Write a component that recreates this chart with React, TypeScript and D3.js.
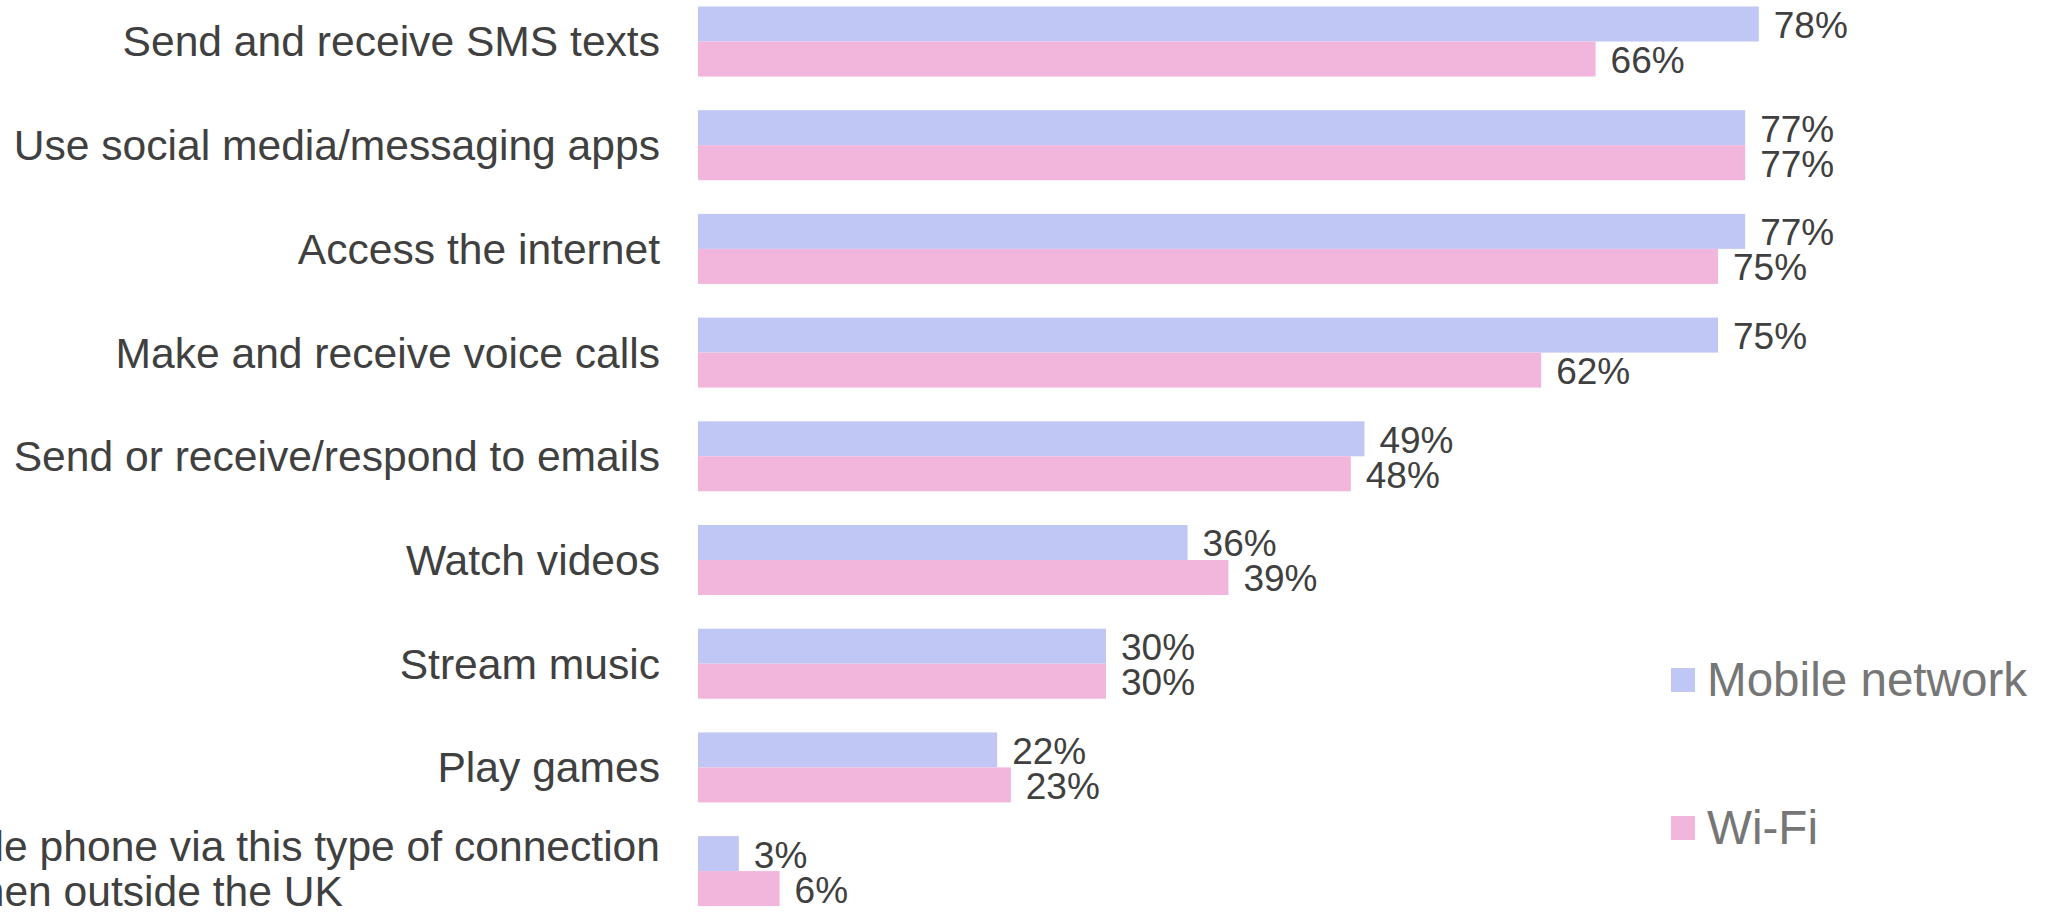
import React from 'react';
import * as d3 from 'd3';

const categories = [
  'Send and receive SMS texts',
  'Use social media/messaging apps',
  'Access the internet',
  'Make and receive voice calls',
  'Send or receive/respond to emails',
  'Watch videos',
  'Stream music',
  'Play games',
  'Use mobile phone via this type of connection|when outside the UK',
];
const mobileValues = [78, 77, 77, 75, 49, 36, 30, 22, 3];
const wifiValues = [66, 77, 75, 62, 48, 39, 30, 23, 6];
const seriesNames = ['Mobile network', 'Wi-Fi'];
const seriesColors = ['#C0C7F5', '#F2B5DB'];

const W = 2054;
const H = 912;
const left = 698;
const FONT = '"Liberation Sans", Arial, sans-serif';

const App: React.FC = () => {
  const x = d3.scaleLinear().domain([0, 100]).range([left, left + 1360]);
  const step = 103.7;
  const y = d3
    .scaleBand<string>()
    .domain(categories)
    .range([6.5 - 0.1625 * step, 6.5 - 0.1625 * step + categories.length * step])
    .paddingInner(0.325)
    .paddingOuter(0.1625);
  const inner = d3.scaleBand<number>().domain([0, 1]).range([0, y.bandwidth()]);
  const series = [mobileValues, wifiValues];

  return (
    <svg
      width={W}
      height={H}
      style={{ position: 'fixed', left: 0, top: 0, background: '#fff' }}
      fontFamily={FONT}
    >
      {categories.map((c, i) => {
        const y0 = y(c)!;
        const mid = y0 + y.bandwidth() / 2;
        const lines = c.split('|');
        return (
          <g key={c}>
            {lines.length === 1 ? (
              <text x={660} y={mid + 15} textAnchor="end" fontSize={42.6} fill="#404040">
                {c}
              </text>
            ) : (
              // two-line label, second line sits left as in the source
              <text fontSize={42.6} fill="#404040">
                <tspan x={660} y={mid - 10} textAnchor="end">{lines[0]}</tspan>
                <tspan x={343} y={mid + 35} textAnchor="end">{lines[1]}</tspan>
              </text>
            )}
            {series.map((vals, s) => {
              const by = y0 + inner(s)!;
              const bh = inner.bandwidth();
              return (
                <g key={s}>
                  <rect
                    x={x(0)}
                    y={by}
                    width={x(vals[i]) - x(0)}
                    height={bh}
                    fill={seriesColors[s]}
                  />
                  <text
                    x={x(vals[i]) + 15}
                    y={by + bh / 2 + 14}
                    fontSize={37}
                    fill="#404040"
                  >
                    {vals[i]}%
                  </text>
                </g>
              );
            })}
          </g>
        );
      })}
      {seriesNames.map((n, s) => {
        const ly = s === 0 ? 668 : 816;
        return (
          <g key={n}>
            <rect x={1671} y={ly} width={24} height={24} fill={seriesColors[s]} />
            <text x={1707} y={ly + 28} fontSize={47.6} fill="#767676">
              {n}
            </text>
          </g>
        );
      })}
    </svg>
  );
};

export default App;
